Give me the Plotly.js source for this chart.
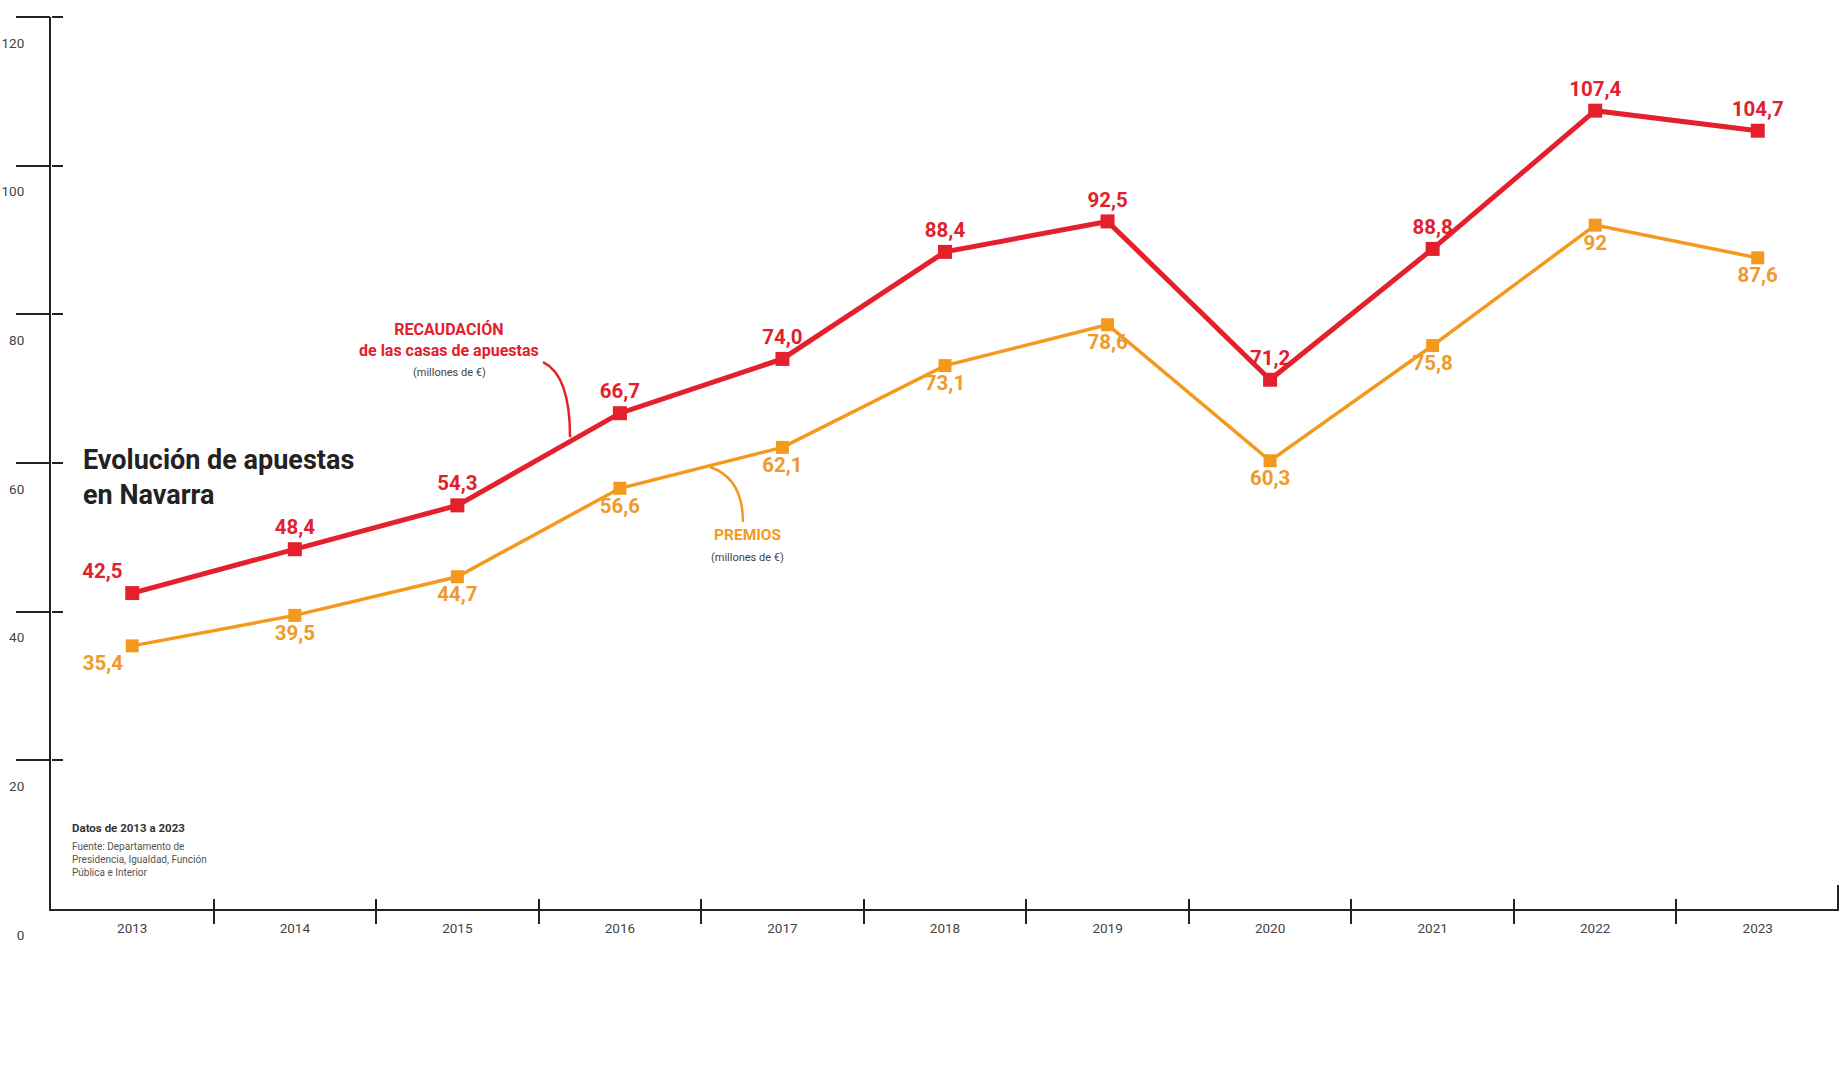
<!DOCTYPE html>
<html>
<head>
<meta charset="utf-8">
<script src="https://cdn.plot.ly/plotly-3.0.1.min.js"></script>
<style>
  html, body { margin: 0; padding: 0; background: #fff; }
  #chart { width: 1843px; height: 1080px; }
</style>
</head>
<body>
<div id="chart"></div>
<script>
/* ── Data ─────────────────────────────────────────────── */
const YEARS = [2013, 2014, 2015, 2016, 2017, 2018, 2019, 2020, 2021, 2022, 2023];
const RECAUDACION = [42.5, 48.4, 54.3, 66.7, 74.0, 88.4, 92.5, 71.2, 88.8, 107.4, 104.7];
const RECAUDACION_TXT = ['42,5', '48,4', '54,3', '66,7', '74,0', '88,4', '92,5', '71,2', '88,8', '107,4', '104,7'];
const PREMIOS = [35.4, 39.5, 44.7, 56.6, 62.1, 73.1, 78.6, 60.3, 75.8, 92, 87.6];
const PREMIOS_TXT = ['35,4', '39,5', '44,7', '56,6', '62,1', '73,1', '78,6', '60,3', '75,8', '92', '87,6'];
const Y_TICKS = [0, 20, 40, 60, 80, 100, 120];

const RED = '#e3202b';
const ORANGE = '#f39a1e';
const INK = '#222';
const FONT = 'Roboto, "Noto Sans", sans-serif';

/* boundaries between year cells for the crossing x ticks */
const BOUNDS = YEARS.slice(0, -1).map(y => y + 0.5);
const X_RANGE = [YEARS[0] - 0.5, YEARS[YEARS.length - 1] + 0.5];
const Y_RANGE = [Y_TICKS[0], Y_TICKS[Y_TICKS.length - 1]];
const Y_MARKS = Y_TICKS.slice(1);   // no tick mark at 0, only its label

/* empty helper traces so the overlay tick axes get drawn */
const axisHelper = (xa, ya) => ({ x: [], y: [], xaxis: xa, yaxis: ya, mode: 'lines',
  showlegend: false, hoverinfo: 'skip' });

const traces = [
  axisHelper('x2', 'y'), axisHelper('x3', 'y'), axisHelper('x4', 'y'),
  axisHelper('x', 'y2'), axisHelper('x', 'y3'),
  {
    x: YEARS, y: PREMIOS, text: PREMIOS_TXT,
    name: 'Premios', mode: 'lines+markers+text',
    line: { color: ORANGE, width: 3.5 },
    marker: { symbol: 'square', size: 13, color: ORANGE },
    textposition: PREMIOS.map((_, i) => i === 0 ? 'bottom left' : 'bottom center'),
    textfont: { family: FONT, size: 20.5, color: '#ef9a2a', weight: 700 },
    cliponaxis: false, hoverinfo: 'skip'
  },
  {
    x: YEARS, y: RECAUDACION, text: RECAUDACION_TXT,
    name: 'Recaudación', mode: 'lines+markers+text',
    line: { color: RED, width: 5 },
    marker: { symbol: 'square', size: 14, color: RED },
    textposition: RECAUDACION.map((_, i) => i === 0 ? 'top left' : 'top center'),
    textfont: { family: FONT, size: 20.5, color: RED, weight: 700 },
    cliponaxis: false, hoverinfo: 'skip'
  }
];

/* tick-only overlay axes: together with the main axes they give crossing ticks */
const tickAxis = (extra) => Object.assign({
  showticklabels: false, showgrid: false, zeroline: false, showline: false,
  ticks: 'outside', tickwidth: 2, tickcolor: INK, fixedrange: true
}, extra);

const layout = {
  width: 1843, height: 1080,
  margin: { l: 51, r: 4, t: 17, b: 171 },
  paper_bgcolor: '#fff', plot_bgcolor: '#fff',
  showlegend: false,
  font: { family: FONT, color: INK },
  xaxis: {
    range: X_RANGE, tickvals: YEARS, ticktext: YEARS.map(String),
    showgrid: false, zeroline: false, showline: true, linecolor: INK, linewidth: 2,
    ticks: '', tickfont: { size: 13.5, color: '#444' },
    ticklabelstandoff: 6, fixedrange: true
  },
  xaxis2: tickAxis({ overlaying: 'x', range: X_RANGE, anchor: 'y', side: 'bottom', tickvals: BOUNDS, ticklen: 14 }),
  xaxis3: tickAxis({ overlaying: 'x', range: X_RANGE, anchor: 'free', position: 0, side: 'top', tickvals: BOUNDS, ticklen: 10 }),
  xaxis4: tickAxis({ overlaying: 'x', range: X_RANGE, anchor: 'free', position: 0, side: 'top',
                     tickvals: [X_RANGE[1] - 0.004], ticklen: 24 }),
  yaxis: {
    range: Y_RANGE, tickvals: Y_TICKS, ticktext: Y_TICKS.map(String),
    showgrid: false, zeroline: false, showline: true, linecolor: INK, linewidth: 2,
    ticks: '', tickfont: { size: 13.5, color: '#444' },
    ticklabelshift: 26, ticklabelstandoff: 22, fixedrange: true
  },
  yaxis2: tickAxis({ overlaying: 'y', range: Y_RANGE, anchor: 'free', position: 0, side: 'right',
                     tickvals: Y_MARKS, ticklen: 11 }),
  yaxis3: tickAxis({ overlaying: 'y', range: Y_RANGE, anchor: 'x', side: 'left',
                     tickvals: Y_MARKS, ticklen: 34 }),
  annotations: [
    { xref: 'paper', yref: 'paper', x: 0.0168, y: 0.523, xanchor: 'left', yanchor: 'top', align: 'left',
      showarrow: false, text: '<b>Evolución de apuestas<br>en Navarra</b>',
      font: { size: 27, color: INK, family: FONT } },
    { xref: 'paper', yref: 'paper', x: 0.2226, y: 0.613, xanchor: 'center', yanchor: 'bottom', align: 'center',
      showarrow: false, text: '<b>RECAUDACIÓN<br>de las casas de apuestas</b>',
      font: { size: 16, color: RED, family: FONT } },
    { xref: 'paper', yref: 'paper', x: 0.2226, y: 0.611, xanchor: 'center', yanchor: 'top',
      showarrow: false, text: '(millones de €)', font: { size: 11, color: '#444', family: FONT } },
    { xref: 'paper', yref: 'paper', x: 0.3898, y: 0.407, xanchor: 'center', yanchor: 'bottom',
      showarrow: false, text: '<b>PREMIOS</b>', font: { size: 15.5, color: ORANGE, family: FONT } },
    { xref: 'paper', yref: 'paper', x: 0.3898, y: 0.404, xanchor: 'center', yanchor: 'top',
      showarrow: false, text: '(millones de €)', font: { size: 11, color: '#444', family: FONT } },
    { xref: 'paper', yref: 'paper', x: 0.0106, y: 0.081, xanchor: 'left', yanchor: 'bottom', align: 'left',
      showarrow: false, text: '<b>Datos de 2013 a 2023</b>', font: { size: 11.5, color: '#333', family: FONT } },
    { xref: 'paper', yref: 'paper', x: 0.0106, y: 0.078, xanchor: 'left', yanchor: 'top', align: 'left',
      showarrow: false, text: 'Fuente: Departamento de<br>Presidencia, Igualdad, Función<br>Pública e Interior',
      font: { size: 10, color: '#555', family: FONT } }
  ],
  shapes: [
    /* curved leader lines of the two callouts */
    { type: 'path', xref: 'paper', yref: 'paper', line: { color: RED, width: 2.5 },
      path: 'M 0.2752 0.6132 Q 0.2903 0.5987 0.2903 0.529' },
    { type: 'path', xref: 'paper', yref: 'paper', line: { color: ORANGE, width: 2.5 },
      path: 'M 0.3686 0.4955 Q 0.387 0.483 0.387 0.4339' }
  ]
};

Plotly.newPlot('chart', traces, layout, { displayModeBar: false, staticPlot: true });
</script>
</body>
</html>
